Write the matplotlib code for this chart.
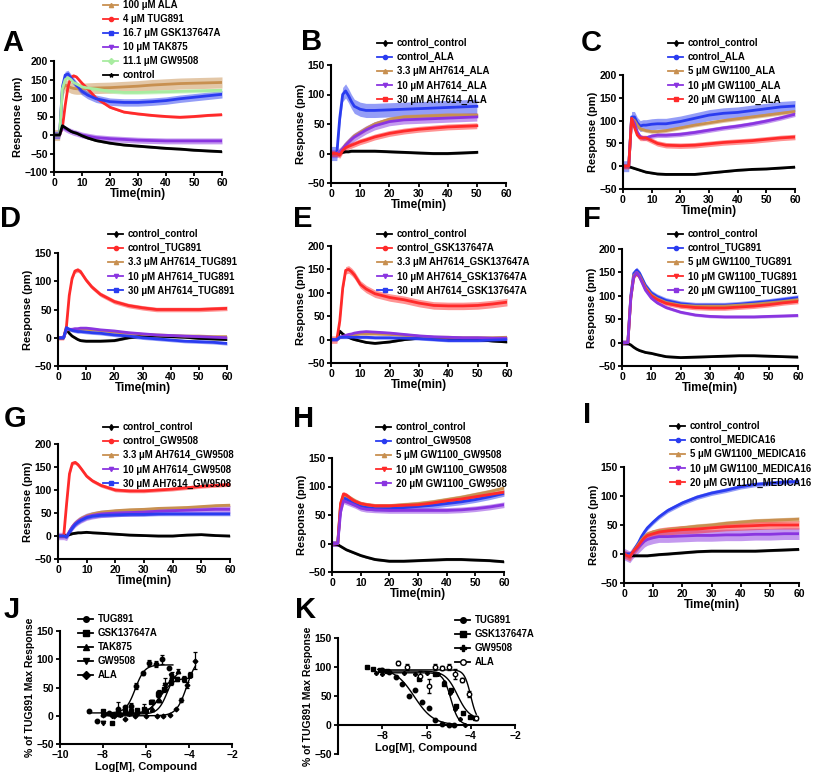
import numpy as np
import matplotlib
matplotlib.use("Agg")
import matplotlib.pyplot as plt
from matplotlib.lines import Line2D

plt.rcParams["font.family"] = ["Liberation Sans", "DejaVu Sans"]
plt.rcParams["font.weight"] = "bold"
plt.rcParams["axes.labelweight"] = "bold"

W, H = 813, 772

# shared time grid (min) of the kinetic traces
TIME = [0, 2, 3, 4, 5, 6, 7, 8, 10, 12, 15, 20, 25, 30, 35, 40, 45, 50, 55, 60]

BLACK, BLUE, RED = "#000000", "#2a3cf0", "#ff2a2a"
TAN, PURPLE, GREEN = "#c89050", "#8a35e0", "#a8eca0"

# ---- panel A
A_LABELS = ["100 \u03bcM ALA", "4 \u03bcM TUG891", "16.7 \u03bcM GSK137647A",
            "10 \u03bcM TAK875", "11.1 \u03bcM GW9508", "control"]
A_ALA = [0, 0, 120, 135, 132, 128, 126, 125, 125, 126, 127, 128, 130, 132, 135, 137, 139, 140, 141, 142]
A_TUG = [0, 0, 20, 80, 130, 155, 160, 157, 140, 125, 100, 75, 62, 57, 53, 50, 48, 50, 53, 55]
A_GSK = [0, 0, 130, 162, 165, 155, 145, 135, 118, 108, 98, 90, 88, 88, 90, 93, 98, 102, 106, 110]
A_TAK = [0, 0, 22, 17, 13, 10, 7, 5, 0, -3, -7, -10, -12, -14, -15, -16, -16, -16, -16, -16]
A_GW = [0, 0, 125, 150, 155, 150, 142, 138, 130, 127, 124, 118, 115, 115, 116, 117, 118, 119, 120, 121]
A_CTL = [0, 0, 25, 20, 15, 10, 7, 5, -2, -8, -15, -22, -27, -30, -33, -36, -38, -41, -43, -45]
A_ERR = [15, 3, 10, 8, 5, 3]

# ---- panel B (recorded to 50 min)
B_LABELS = ["control_control", "control_ALA", "3.3 \u03bcM AH7614_ALA",
            "10 \u03bcM AH7614_ALA", "30 \u03bcM AH7614_ALA"]
B_CC = [0, 0, 1, 2, 3, 3, 4, 4, 4, 4, 4, 3, 2, 1, 0, 0, 1, 2]
B_ALA = [0, 0, 60, 100, 106, 98, 88, 80, 75, 73, 73, 74, 75, 76, 77, 78, 79, 80]
B_3 = [0, 0, 3, 8, 15, 20, 25, 30, 36, 42, 50, 58, 62, 63, 64, 65, 65, 65]
B_10 = [0, 0, 3, 8, 14, 19, 24, 28, 34, 40, 47, 54, 57, 58, 59, 60, 61, 62]
B_30 = [0, 0, -3, 5, 10, 12, 14, 16, 20, 23, 28, 34, 38, 41, 43, 45, 46, 47]
B_ERR = [2, 12, 4, 7, 5]

# ---- panel C
C_LABELS = ["control_control", "control_ALA", "5 \u03bcM GW1100_ALA",
            "10 \u03bcM GW1100_ALA", "20 \u03bcM GW1100_ALA"]
C_CC = [0, -1, -3, -5, -7, -9, -11, -13, -15, -17, -18, -18, -18, -15, -12, -9, -7, -6, -4, -2]
C_ALA = [0, 0, 108, 108, 95, 88, 90, 90, 92, 93, 93, 98, 105, 112, 116, 118, 122, 126, 130, 132]
C_5 = [0, 0, 105, 100, 90, 82, 80, 78, 76, 76, 78, 84, 90, 95, 100, 104, 108, 112, 116, 120]
C_10 = [0, 0, 105, 95, 75, 65, 62, 62, 66, 68, 68, 70, 74, 79, 84, 88, 93, 99, 106, 114]
C_20 = [0, 0, 105, 85, 68, 62, 62, 62, 56, 50, 46, 45, 46, 49, 52, 54, 56, 59, 62, 64]
C_ERR = [2, 12, 4, 5, 6]

# ---- panel D
D_LABELS = ["control_control", "control_TUG891", "3.3 \u03bcM AH7614_TUG891",
            "10 \u03bcM AH7614_TUG891", "30 \u03bcM AH7614_TUG891"]
D_CC = [0, 0, 15, 8, 3, 0, -3, -5, -6, -6, -6, -5, 0, 3, 3, 2, 1, -1, -2, -3]
D_TUG = [0, 0, 20, 75, 105, 118, 120, 117, 102, 90, 77, 64, 57, 53, 50, 50, 50, 50, 51, 52]
D_3 = [0, 0, 15, 14, 14, 15, 15, 15, 15, 14, 13, 10, 8, 6, 5, 4, 3, 3, 2, 2]
D_10 = [0, 0, 15, 15, 15, 16, 16, 17, 17, 16, 14, 12, 9, 7, 5, 4, 3, 2, 1, 0]
D_30 = [0, 0, 18, 15, 13, 12, 11, 11, 10, 9, 8, 5, 3, 0, -2, -4, -6, -7, -8, -10]
D_ERR = [2, 4, 2, 2, 3]

# ---- panel E
E_LABELS = ["control_control", "control_GSK137647A", "3.3 \u03bcM AH7614_GSK137647A",
            "10 \u03bcM AH7614_GSK137647A", "30 \u03bcM AH7614_GSK137647A"]
E_CC = [0, 0, 18, 12, 8, 5, 2, 0, -3, -6, -8, -5, 0, 3, 3, 2, 1, 0, -3, -5]
E_GSK = [0, 0, 40, 110, 148, 150, 145, 138, 118, 108, 98, 90, 85, 78, 73, 72, 72, 73, 76, 80]
E_3 = [0, 0, 5, 6, 7, 8, 9, 10, 12, 12, 12, 11, 9, 7, 5, 5, 4, 4, 4, 5]
E_10 = [0, 0, 5, 7, 9, 11, 12, 14, 16, 17, 16, 14, 11, 8, 6, 5, 4, 4, 3, 3]
E_30 = [0, 0, 5, 5, 5, 5, 5, 5, 5, 5, 4, 4, 3, 2, 0, -2, -2, -2, -1, 0]
E_ERR = [2, 8, 2, 3, 3]

# ---- panel F
F_LABELS = ["control_control", "control_TUG891", "5 \u03bcM GW1100_TUG891",
            "10 \u03bcM GW1100_TUG891", "20 \u03bcM GW1100_TUG891"]
F_CC = [0, -2, -5, -10, -14, -17, -19, -21, -23, -26, -30, -32, -31, -30, -29, -28, -28, -29, -30, -31]
F_TUG = [0, 0, 100, 148, 155, 148, 135, 122, 106, 98, 90, 83, 80, 80, 80, 82, 85, 88, 92, 96]
F_5 = [0, 0, 95, 143, 150, 143, 130, 118, 102, 94, 86, 80, 78, 78, 78, 80, 82, 85, 88, 92]
F_10 = [0, 0, 95, 140, 148, 140, 128, 115, 100, 92, 84, 78, 75, 74, 74, 76, 78, 81, 85, 88]
F_20 = [0, 0, 95, 140, 150, 140, 126, 112, 95, 85, 75, 65, 59, 56, 55, 55, 55, 56, 57, 58]
F_ERR = [2, 6, 4, 5, 3]

# ---- panel G
G_LABELS = ["control_control", "control_GW9508", "3.3 \u03bcM AH7614_GW9508",
            "10 \u03bcM AH7614_GW9508", "30 \u03bcM AH7614_GW9508"]
G_CC = [0, 0, 1, 3, 5, 6, 7, 7, 8, 7, 6, 4, 2, 1, 0, 0, 2, 3, 1, 0]
G_GW = [0, 0, 70, 135, 158, 160, 155, 147, 130, 120, 110, 100, 98, 98, 100, 102, 105, 108, 110, 112]
G_3 = [0, 0, -2, 10, 20, 28, 33, 38, 44, 48, 52, 55, 57, 58, 60, 61, 62, 64, 66, 67]
G_10 = [0, 0, -2, 10, 20, 27, 32, 36, 42, 45, 48, 50, 51, 52, 54, 55, 56, 57, 58, 58]
G_30 = [0, 0, -2, 8, 17, 25, 30, 34, 40, 43, 45, 46, 47, 47, 48, 48, 48, 48, 48, 48]
G_ERR = [2, 4, 3, 8, 4]

# ---- panel H
H_LABELS = ["control_control", "control_GW9508", "5 \u03bcM GW1100_GW9508",
            "10 \u03bcM GW1100_GW9508", "20 \u03bcM GW1100_GW9508"]
H_CC = [0, -2, -5, -8, -11, -13, -15, -17, -21, -24, -28, -31, -31, -30, -29, -28, -28, -29, -30, -32]
H_GW = [0, 0, 65, 80, 78, 75, 72, 70, 66, 64, 62, 62, 63, 65, 67, 70, 73, 77, 82, 88]
H_5 = [0, 0, 70, 85, 84, 81, 78, 75, 70, 68, 66, 66, 68, 70, 73, 77, 81, 86, 91, 97]
H_10 = [0, 0, 70, 87, 85, 81, 77, 74, 70, 68, 66, 66, 67, 68, 71, 75, 78, 82, 86, 90]
H_20 = [0, 0, 55, 75, 73, 71, 69, 67, 62, 60, 59, 58, 58, 58, 58, 58, 59, 61, 64, 68]
H_ERR = [2, 5, 4, 4, 5]

# ---- panel I
I_LABELS = ["control_control", "control_MEDICA16", "5 \u03bcM GW1100_MEDICA16",
            "10 \u03bcM GW1100_MEDICA16", "20 \u03bcM GW1100_MEDICA16"]
I_CC = [0, -3, -3, -3, -3, -3, -3, -3, -2, -1, 0, 2, 4, 5, 5, 5, 5, 6, 7, 8]
I_MED = [0, 0, 3, 12, 20, 30, 38, 45, 55, 64, 75, 88, 98, 105, 110, 116, 120, 122, 124, 125]
I_5 = [0, -5, 3, 10, 17, 24, 30, 34, 38, 40, 42, 45, 48, 50, 53, 55, 57, 58, 59, 60]
I_10 = [0, -5, 2, 7, 12, 17, 22, 25, 28, 30, 30, 31, 32, 32, 33, 33, 34, 34, 35, 35]
I_20 = [0, -5, 3, 9, 15, 22, 28, 32, 35, 38, 40, 42, 43, 45, 47, 48, 49, 50, 50, 50]
I_ERR = [2, 4, 4, 10, 7]

# ---- panel J: concentration-response (x = log M)
J_LABELS = ["TUG891", "GSK137647A", "TAK875", "GW9508", "ALA"]
J_TUG_X = [-8.65, -8.3, -7.7, -7.3, -7.0, -6.7, -6.45, -6.15, -5.85, -5.55, -5.25, -4.95]
J_TUG_Y = [8, -10, 5, 12, 15, 18, 53, 75, 93, 92, 100, 85]
J_TUG_E = [0, 0, 0, 12, 0, 5, 5, 3, 5, 5, 8, 0]
J_GSK_X = [-8.0, -7.6, -7.3, -7.0, -6.7, -6.4, -6.1, -5.75, -5.45, -5.15, -4.85, -4.55, -4.25, -3.95]
J_GSK_Y = [8, -13, 5, 8, 8, 10, 12, 25, 38, 48, 60, 65, 65, 73]
J_GSK_E = [0, 0, 0, 0, 0, 0, 8, 0, 5, 6, 6, 3, 5, 5]
J_TAK_X = [-8.0, -7.6, -7.2, -6.8, -6.4, -6.0, -5.7, -5.4, -5.1, -4.8, -4.5]
J_TAK_Y = [3, 3, 3, 5, 8, 10, 12, 28, 50, 72, 80]
J_TAK_E = [0, 0, 0, 0, 0, 0, 0, 0, 5, 5, 3]
J_GW_X = [-8.0, -7.6, -7.2, -6.8, -6.4, -6.0, -5.7, -5.4, -5.1, -4.85]
J_GW_Y = [-13, 0, 2, 3, 3, 8, 25, 40, 55, 70]
J_GW_E = [0, 0, 0, 0, 0, 0, 0, 5, 12, 5]
J_ALA_X = [-8.0, -7.5, -7.0, -6.5, -6.0, -5.5, -5.2, -4.9, -4.6, -4.35, -4.1, -3.7]
J_ALA_Y = [2, 0, -5, 0, 0, 0, 0, 2, 12, 28, 55, 97]
J_ALA_E = [0, 0, 0, 0, 0, 0, 0, 0, 0, 3, 5, 15]
# fitted curves: bottom, top, logEC50, Hill slope, x start, x end
J_FIT_BOTTOM = [5, 4, 3, 2, 0]
J_FIT_TOP = [90, 67, 82, 75, 105]
J_FIT_LOGEC50 = [-6.5, -5.3, -5.0, -5.3, -4.1]
J_FIT_HILL = [2.0, 1.5, 2.0, 1.5, 1.8]
J_FIT_START = [-8.7, -8.0, -8.0, -8.0, -8.0]
J_FIT_END = [-4.75, -3.9, -4.5, -4.7, -3.7]

# ---- panel K: inhibition curves
K_LABELS = ["TUG891", "GSK137647A", "GW9508", "ALA"]
K_TUG_X = [-8.0, -7.7, -7.4, -7.1, -6.8, -6.5, -6.2, -5.9, -5.6, -5.3, -5.0, -4.75]
K_TUG_Y = [95, 92, 83, 70, 50, 60, 40, 30, 9, 2, 0, 0]
K_GSK_X = [-8.7, -8.4, -8.1, -7.8, -6.35, -5.6, -5.2, -4.9, -4.65, -4.35, -4.05, -3.8]
K_GSK_Y = [100, 97, 95, 93, 80, 88, 70, 60, 33, 20, 13, 12]
K_GW_X = [-8.3, -8.0, -7.7, -7.0, -6.5, -6.0, -5.5, -5.2, -4.95, -4.7, -4.5, -4.25]
K_GW_Y = [90, 88, 92, 90, 88, 90, 88, 75, 55, 28, 10, 0]
K_ALA_X = [-7.3, -6.9, -6.3, -5.9, -5.6, -5.3, -5.0, -4.7, -4.4, -4.1, -3.75]
K_ALA_Y = [107, 100, 85, 67, 100, 98, 100, 88, 78, 53, 12]
K_ALA_E = [3, 5, 8, 12, 5, 3, 5, 8, 3, 5, 3]
K_FIT_TOP = [98, 93, 90, 95]
K_FIT_BOTTOM = [0, 10, 0, 5]
K_FIT_LOGIC50 = [-6.55, -4.6, -4.9, -4.0]
K_FIT_HILL = [1.0, 1.6, 2.5, 3.0]
K_FIT_START = [-8.2, -8.0, -8.0, -8.0]
K_FIT_END = [-4.75, -3.8, -4.25, -3.75]


def px_axes(fig, left, top, right, bottom):
    return fig.add_axes([left / W, 1 - bottom / H, (right - left) / W, (bottom - top) / H])


def style(ax):
    for s in ("top", "right"):
        ax.spines[s].set_visible(False)
    for s in ("left", "bottom"):
        ax.spines[s].set_linewidth(1.5)
    ax.tick_params(width=1.3, length=3, labelsize=7.5, pad=1.5)
    for lab in ax.get_xticklabels() + ax.get_yticklabels():
        lab.set_fontweight("bold")


def legend(ax, handles, labels, x, y, fs=6.9):
    ax.legend(handles, labels, loc="upper left", bbox_to_anchor=(x / W, 1 - y / H),
              bbox_transform=ax.figure.transFigure, frameon=False,
              handlelength=1.6, handletextpad=0.45, labelspacing=0.42,
              borderpad=0, borderaxespad=0, prop={"weight": "bold", "size": fs})


def time_panel(fig, box, series, labels, colors, markers, errs, ylim, leg_xy, tmax=60):
    ax = px_axes(fig, *box)
    t = np.array(TIME[:len(series[0])])
    for y, e, c in zip(series, errs, colors):
        y = np.array(y, dtype=float)
        ax.fill_between(t, y - e, y + e, color=c, alpha=0.5, lw=0)
        ax.plot(t, y, color=c, lw=2.0)
    ax.set_xlim(0, tmax)
    ax.set_ylim(*ylim)
    ax.set_xticks(range(0, 61, 10))
    ax.set_yticks(range(ylim[0], ylim[1] + 1, 50))
    ax.set_xlabel("Time(min)", fontsize=8.5, labelpad=0)
    ax.set_ylabel("Response (pm)", fontsize=8, labelpad=1)
    style(ax)
    handles = [Line2D([], [], color=c, lw=1.3, marker=m, ms=3) for c, m in zip(colors, markers)]
    legend(ax, handles, labels, *leg_xy)
    return ax


def letter(fig, s, x, y):
    fig.text(x / W, 1 - y / H, s, fontsize=21, fontweight="bold", va="center", ha="left")


fig = plt.figure(figsize=(W / 100, H / 100), dpi=100, facecolor="white")

MK5 = ["d", "o", "^", "v", "s"]
time_panel(fig, (54, 61, 222, 172), [A_ALA, A_TUG, A_GSK, A_TAK, A_GW, A_CTL], A_LABELS,
           [TAN, RED, BLUE, PURPLE, GREEN, BLACK], ["^", "o", "s", "v", "D", "*"], A_ERR,
           (-100, 200), (103, 0))
time_panel(fig, (331, 65, 506, 183), [B_CC, B_ALA, B_3, B_10, B_30], B_LABELS,
           [BLACK, BLUE, TAN, PURPLE, RED], MK5, B_ERR, (-50, 150), (377, 38))
time_panel(fig, (623, 75, 795, 189), [C_CC, C_ALA, C_5, C_10, C_20], C_LABELS,
           [BLACK, BLUE, TAN, PURPLE, RED], MK5, C_ERR, (-50, 200), (668, 38))
time_panel(fig, (58, 253, 227, 366), [D_CC, D_TUG, D_3, D_10, D_30], D_LABELS,
           [BLACK, RED, TAN, PURPLE, BLUE], MK5, D_ERR, (-50, 150), (108, 229))
time_panel(fig, (331, 246, 507, 363), [E_CC, E_GSK, E_3, E_10, E_30], E_LABELS,
           [BLACK, RED, TAN, PURPLE, BLUE], MK5, E_ERR, (-50, 200), (377, 229))
time_panel(fig, (622, 249, 798, 366), [F_CC, F_TUG, F_5, F_10, F_20], F_LABELS,
           [BLACK, BLUE, TAN, RED, PURPLE], MK5, F_ERR, (-50, 200), (668, 229))
time_panel(fig, (58, 444, 230, 559), [G_CC, G_GW, G_3, G_10, G_30], G_LABELS,
           [BLACK, RED, TAN, PURPLE, BLUE], MK5, G_ERR, (-50, 200), (103, 422))
time_panel(fig, (332, 458, 504, 572), [H_CC, H_GW, H_5, H_10, H_20], H_LABELS,
           [BLACK, BLUE, TAN, RED, PURPLE], MK5, H_ERR, (-50, 150), (376, 422))
time_panel(fig, (624, 467, 799, 583), [I_CC, I_MED, I_5, I_10, I_20], I_LABELS,
           [BLACK, BLUE, TAN, PURPLE, RED], MK5, I_ERR, (-50, 150), (670, 421))

# ---- J
axj = px_axes(fig, 60, 631, 232, 744)
j_pts = [(J_TUG_X, J_TUG_Y, J_TUG_E, "o"), (J_GSK_X, J_GSK_Y, J_GSK_E, "s"),
         (J_TAK_X, J_TAK_Y, J_TAK_E, "^"), (J_GW_X, J_GW_Y, J_GW_E, "v"),
         (J_ALA_X, J_ALA_Y, J_ALA_E, "D")]
handles = []
for i, (x, y, e, m) in enumerate(j_pts):
    axj.errorbar(x, y, yerr=e, fmt=m, color="black", ms=3.2 if m != "D" else 2.4,
                 elinewidth=0.9, capsize=1.5, capthick=0.9)
    xs = np.linspace(J_FIT_START[i], J_FIT_END[i], 120)
    ys = J_FIT_BOTTOM[i] + (J_FIT_TOP[i] - J_FIT_BOTTOM[i]) / (
        1 + 10 ** ((J_FIT_LOGEC50[i] - xs) * J_FIT_HILL[i]))
    axj.plot(xs, ys, color="black", lw=1.0)
    handles.append(Line2D([], [], color="black", lw=1.3, marker=m, ms=4))
axj.set_xlim(-10, -2)
axj.set_ylim(-50, 150)
axj.set_xticks(range(-10, -1, 2))
axj.set_yticks(range(-50, 151, 50))
axj.set_xlabel("Log[M], Compound", fontsize=8, labelpad=1)
axj.set_ylabel("% of TUG891 Max Response", fontsize=7.5, labelpad=1)
style(axj)
legend(axj, handles, J_LABELS, 78, 614)

# ---- K
axk = px_axes(fig, 338, 638, 515, 754)
k_pts = [(K_TUG_X, K_TUG_Y, None, "o", "black"), (K_GSK_X, K_GSK_Y, None, "s", "black"),
         (K_GW_X, K_GW_Y, None, "P", "black"), (K_ALA_X, K_ALA_Y, K_ALA_E, "o", "white")]
handles = []
for i, (x, y, e, m, fc) in enumerate(k_pts):
    axk.errorbar(x, y, yerr=e, fmt=m, color="black", mfc=fc, ms=3.2 if m != "P" else 2.6,
                 mew=1.0, elinewidth=0.9, capsize=1.5, capthick=0.9)
    xs = np.linspace(K_FIT_START[i], K_FIT_END[i], 120)
    ys = K_FIT_BOTTOM[i] + (K_FIT_TOP[i] - K_FIT_BOTTOM[i]) / (
        1 + 10 ** ((xs - K_FIT_LOGIC50[i]) * K_FIT_HILL[i]))
    axk.plot(xs, ys, color="black", lw=1.0)
    handles.append(Line2D([], [], color="black", lw=1.3, marker=m, mfc=fc, ms=4))
axk.set_xlim(-10, -2)
axk.set_ylim(-50, 150)
axk.spines["bottom"].set_position(("data", 0))
axk.set_xticks([-8, -6, -4, -2])
axk.set_yticks(range(-50, 151, 50))
axk.set_xlabel("Log[M], Compound", fontsize=8, labelpad=1)
axk.set_ylabel("% of TUG891 Max Response", fontsize=7.5, labelpad=1)
style(axk)
legend(axk, handles, K_LABELS, 455, 615)

for s, x, y in [("A", 2, 43), ("B", 301, 42), ("C", 581, 43), ("D", 0, 219),
                ("E", 293, 219), ("F", 583, 219), ("G", 4, 419), ("H", 293, 419),
                ("I", 583, 415), ("J", 4, 610), ("K", 295, 610)]:
    letter(fig, s, x, y)

fig.savefig("out.png", dpi=100, facecolor="white")
